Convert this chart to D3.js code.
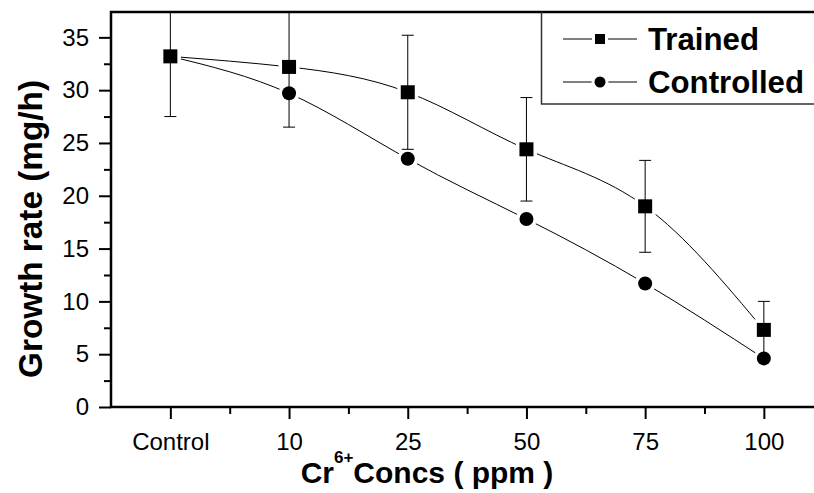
<!DOCTYPE html>
<html>
<head>
<meta charset="utf-8">
<script src="https://cdn.jsdelivr.net/npm/d3@7"></script>
<style>
    body { margin: 0; background: #fff; }
    svg { display: block; font-family: "Liberation Sans", Arial, sans-serif; }
</style>
</head>
<body>
<div id="chart"></div>
<script>
'use strict';

// values
var categories = ["Control", "10", "25", "50", "75", "100"];
var trained = [33.2, 32.2, 29.8, 24.4, 19.0, 7.3];
var trainedErr = [5.7, 5.7, 5.4, 4.9, 4.35, 2.7];
var controlled = [33.2, 29.7, 23.5, 17.8, 11.7, 4.6];
var yTicks = [0, 5, 10, 15, 20, 25, 30, 35];
var yMinorTicks = [2.5, 7.5, 12.5, 17.5, 22.5, 27.5, 32.5];

var width = 814;
var height = 493;
var plotLeft = 111, plotTop = 12, plotBottom = 407;
var step = 118.7;

var svg = d3.select("#chart").append("svg")
    .attr("width", width)
    .attr("height", height);

var x = d3.scaleLinear()
    .domain([-0.5, categories.length - 0.5])
    .range([plotLeft, plotLeft + step * categories.length]);

var y = d3.scaleLinear()
    .domain([0, 37.4])
    .range([plotBottom, plotTop]);

svg.append("clipPath")
    .attr("id", "plotClip")
    .append("rect")
    .attr("x", plotLeft)
    .attr("y", plotTop)
    .attr("width", width - plotLeft)
    .attr("height", plotBottom - plotTop);

// axes
svg.append("g")
    .attr("transform", "translate(" + plotLeft + ",0)")
    .call(d3.axisLeft(y).tickValues(yTicks).tickSize(12).tickSizeOuter(0).tickPadding(10));

svg.append("g")
    .attr("transform", "translate(" + plotLeft + ",0)")
    .call(d3.axisLeft(y).tickValues(yMinorTicks).tickSize(7).tickSizeOuter(0).tickFormat(""));

svg.append("g")
    .attr("transform", "translate(0," + plotBottom + ")")
    .call(d3.axisBottom(x)
        .tickValues(d3.range(categories.length))
        .tickFormat(function (i) { return categories[i]; })
        .tickSize(12).tickSizeOuter(0).tickPadding(14));

svg.append("g")
    .attr("transform", "translate(0," + plotBottom + ")")
    .call(d3.axisBottom(x)
        .tickValues(d3.range(categories.length - 1).map(function (i) { return i + 0.5; }))
        .tickSize(7).tickSizeOuter(0).tickFormat(""));

svg.selectAll(".domain").remove();
svg.selectAll(".tick line")
    .attr("stroke", "#000")
    .attr("stroke-width", 2);
svg.selectAll(".tick text")
    .attr("fill", "#000")
    .style("font-size", "24px");

// frame: left, bottom and top lines (right side is cut off)
svg.append("path")
    .attr("d", "M" + plotLeft + "," + plotBottom + "V" + plotTop + "H" + width)
    .attr("fill", "none")
    .attr("stroke", "#000")
    .attr("stroke-width", 2.5);
svg.append("line")
    .attr("x1", plotLeft - 1)
    .attr("x2", width)
    .attr("y1", plotBottom)
    .attr("y2", plotBottom)
    .attr("stroke", "#000")
    .attr("stroke-width", 2.5);

// curves
var plot = svg.append("g").attr("clip-path", "url(#plotClip)");

var line = d3.line()
    .x(function (d, i) { return x(i); })
    .y(function (d) { return y(d); })
    .curve(d3.curveNatural);

[trained, controlled].forEach(function (series) {
    plot.append("path")
        .attr("d", line(series))
        .attr("fill", "none")
        .attr("stroke", "#000")
        .attr("stroke-width", 1);
});

// markers, with a white halo so the line stops short of them
plot.selectAll(".circ")
    .data(controlled)
    .enter().append("circle")
    .attr("cx", function (d, i) { return x(i); })
    .attr("cy", function (d) { return y(d); })
    .attr("r", 7)
    .attr("fill", "#000")
    .attr("stroke", "#fff")
    .attr("stroke-width", 7)
    .style("paint-order", "stroke");

plot.selectAll(".sq")
    .data(trained)
    .enter().append("rect")
    .attr("x", function (d, i) { return x(i) - 7; })
    .attr("y", function (d) { return y(d) - 7; })
    .attr("width", 14)
    .attr("height", 14)
    .attr("fill", "#000")
    .attr("stroke", "#fff")
    .attr("stroke-width", 7)
    .style("paint-order", "stroke");

// error bars for the trained series
var bars = plot.selectAll(".err")
    .data(trained)
    .enter().append("g");

bars.append("line")
    .attr("x1", function (d, i) { return x(i); })
    .attr("x2", function (d, i) { return x(i); })
    .attr("y1", function (d, i) { return y(d + trainedErr[i]); })
    .attr("y2", function (d, i) { return y(d - trainedErr[i]); })
    .attr("stroke", "#000")
    .attr("stroke-width", 1);

bars.selectAll("line.cap")
    .data(function (d, i) { return [[i, d + trainedErr[i]], [i, d - trainedErr[i]]]; })
    .enter().append("line")
    .attr("class", "cap")
    .attr("x1", function (d) { return x(d[0]) - 6; })
    .attr("x2", function (d) { return x(d[0]) + 6; })
    .attr("y1", function (d) { return y(d[1]); })
    .attr("y2", function (d) { return y(d[1]); })
    .attr("stroke", "#000")
    .attr("stroke-width", 1);

// legend
var legend = svg.append("g");

legend.append("path")
    .attr("d", "M" + width + ",104H541.5V" + plotTop)
    .attr("fill", "none")
    .attr("stroke", "#333")
    .attr("stroke-width", 1.5);

var legendItems = [
    { name: "Trained", shape: "square", y: 39, len: 111 },
    { name: "Controlled", shape: "circle", y: 82, len: 156 }
];

legendItems.forEach(function (item) {
    legend.append("line")
        .attr("x1", 563)
        .attr("x2", 637)
        .attr("y1", item.y)
        .attr("y2", item.y)
        .attr("stroke", "#000")
        .attr("stroke-width", 1);

    if (item.shape === "square") {
        legend.append("rect")
            .attr("x", 600 - 5)
            .attr("y", item.y - 5)
            .attr("width", 10)
            .attr("height", 10)
            .attr("fill", "#000")
            .attr("stroke", "#fff")
            .attr("stroke-width", 6)
            .style("paint-order", "stroke");
    } else {
        legend.append("circle")
            .attr("cx", 600)
            .attr("cy", item.y)
            .attr("r", 5.5)
            .attr("fill", "#000")
            .attr("stroke", "#fff")
            .attr("stroke-width", 6)
            .style("paint-order", "stroke");
    }

    legend.append("text")
        .attr("x", 648)
        .attr("y", item.y + 11)
        .attr("textLength", item.len)
        .attr("lengthAdjust", "spacingAndGlyphs")
        .style("font-size", "32px")
        .style("font-weight", "bold")
        .text(item.name);
});

// axis titles
svg.append("text")
    .attr("transform", "translate(42,229) rotate(-90)")
    .attr("text-anchor", "middle")
    .attr("textLength", 298)
    .attr("lengthAdjust", "spacingAndGlyphs")
    .style("font-size", "33px")
    .style("font-weight", "bold")
    .text("Growth rate (mg/h)");

var xTitle = svg.append("text")
    .attr("x", 427)
    .attr("y", 483)
    .attr("text-anchor", "middle")
    .style("font-size", "30px")
    .style("font-weight", "bold");

xTitle.append("tspan").text("Cr");
xTitle.append("tspan")
    .attr("dy", -20)
    .style("font-size", "17px")
    .text("6+");
xTitle.append("tspan")
    .attr("dy", 20)
    .text("Concs ( ppm )");
</script>
</body>
</html>
